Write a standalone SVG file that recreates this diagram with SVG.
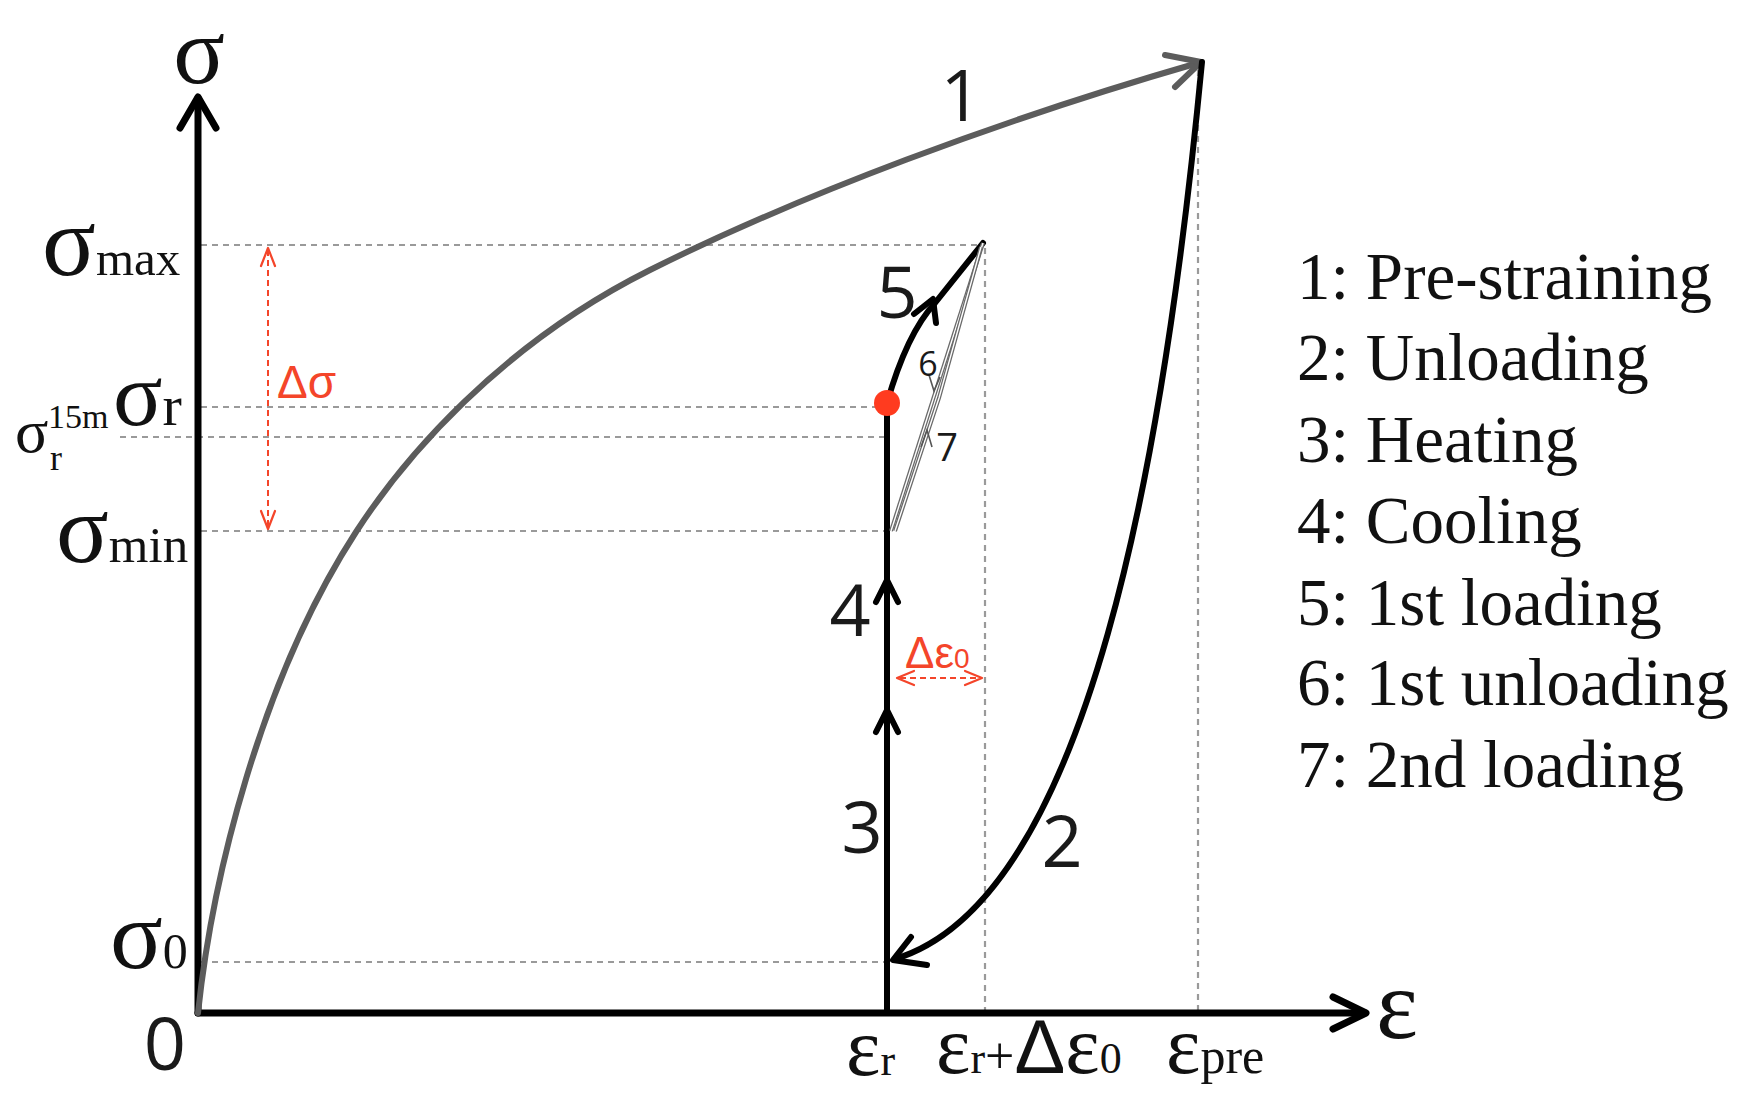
<svg xmlns="http://www.w3.org/2000/svg" width="1757" height="1113" viewBox="0 0 1757 1113">
<style>
.ser{font-family:"Liberation Serif","Times New Roman",serif;fill:#111}
.san{font-family:"Open Sans","Noto Sans","DejaVu Sans",sans-serif;fill:#1a1a1a}
.red{font-family:"Liberation Sans",Arial,sans-serif;fill:#f4452a}
.dash{stroke:#9a9a9a;stroke-width:2.2;stroke-dasharray:6 5;fill:none}
.axis{stroke:#000;stroke-width:7;fill:none;stroke-linecap:round;stroke-linejoin:round}
.blk{stroke:#000;stroke-width:6;fill:none;stroke-linecap:round;stroke-linejoin:round}
.gry{stroke:#5c5c5c;stroke-width:6;fill:none;stroke-linecap:round;stroke-linejoin:round}
.rd{stroke:#f4452a;stroke-width:2;fill:none;stroke-dasharray:6 4}
.rdh{stroke:#f4452a;stroke-width:2.2;fill:none;stroke-linecap:round;stroke-linejoin:round}
.thin{stroke:#6a6a6a;stroke-width:4;fill:none}
.thinw{stroke:#fff;stroke-width:1.4;fill:none}
</style>
<rect width="1757" height="1113" fill="#fff"/>

<g id="guides">
  <line class="dash" x1="201" y1="245" x2="983" y2="245"/>
  <line class="dash" x1="201" y1="407" x2="876" y2="407"/>
  <line class="dash" x1="120" y1="437" x2="884" y2="437"/>
  <line class="dash" x1="201" y1="531" x2="884" y2="531"/>
  <line class="dash" x1="201" y1="962" x2="884" y2="962"/>
  <line class="dash" x1="985" y1="248" x2="985" y2="1010"/>
  <line class="dash" x1="1198" y1="70" x2="1198" y2="1010"/>
</g>

<g id="axis-y">
  <line class="axis" x1="198" y1="1013" x2="198" y2="98"/>
  <polyline class="axis" points="180,128 198,97 216,128"/>
  <text class="ser" x="199" y="83" font-size="96" text-anchor="middle">σ</text>
</g>
<g id="axis-x">
  <line class="axis" x1="198" y1="1013" x2="1365" y2="1013"/>
  <polyline class="axis" points="1333,997 1366,1013 1333,1029"/>
  <text class="ser" x="1376" y="1038" font-size="100">ε</text>
</g>

<g id="connectors">
  <path id="c1" class="gry" d="M198,1013 C212,880 260,680 356,532 C404,458 500,345 650,270 C800,195 1000,120 1198,63"/>
  <polyline class="gry" points="1165,55 1201,62 1175,87"/>
  <path id="c2" class="blk" d="M1202,62 C1165,450 1090,900 895,959"/>
  <polyline class="blk" points="911,937 893,960 927,965"/>
  <line id="c34" class="blk" x1="887" y1="1013" x2="887" y2="403"/>
  <polyline class="blk" points="876,732 887,710 898,732"/>
  <polyline class="blk" points="876,602 887,580 898,602"/>
  <path id="c5" class="blk" d="M887,403 C895,375 910,330 935,303 L983,243"/>
  <polyline class="blk" points="914,314 933,299 936,323"/>
  <g id="c6">
    <line class="thin" x1="983" y1="243" x2="891" y2="531"/>
    <line class="thinw" x1="983" y1="243" x2="891" y2="531"/>
    <polyline stroke="#555" stroke-width="1.6" fill="none" points="929,375 934,391 940,377"/>
  </g>
  <g id="c7">
    <path class="thin" d="M895,531 L939,398 L981,247"/>
    <path class="thinw" d="M895,531 L939,398 L981,247"/>
    <polyline stroke="#555" stroke-width="1.6" fill="none" points="921,447 927,430 932,447"/>
  </g>
  <circle id="dot" cx="887" cy="403" r="13" fill="#ff3b1f"/>
  <g id="dsigma">
    <line class="rd" x1="268" y1="250" x2="268" y2="527"/>
    <polyline class="rdh" points="261,266 268,248 275,266"/>
    <polyline class="rdh" points="261,511 268,529 275,511"/>
  </g>
  <g id="deps">
    <line class="rd" x1="900" y1="678" x2="979" y2="678"/>
    <polyline class="rdh" points="914,671 897,678 914,685"/>
    <polyline class="rdh" points="965,671 982,678 965,685"/>
  </g>
</g>

<g id="label-smax"><text class="ser" x="42" y="275"><tspan font-size="100">σ</tspan><tspan font-size="49">max</tspan></text></g>
<g id="label-sr"><text class="ser" x="113" y="425"><tspan font-size="92">σ</tspan><tspan font-size="58">r</tspan></text></g>
<g id="label-sr15">
  <text class="ser" x="15" y="452" font-size="62">σ</text>
  <text class="ser" x="48" y="428" font-size="34">15m</text>
  <text class="ser" x="50" y="470" font-size="36">r</text>
</g>
<g id="label-smin"><text class="ser" x="56" y="562"><tspan font-size="98">σ</tspan><tspan font-size="51">min</tspan></text></g>
<g id="label-s0"><text class="ser" x="110" y="968"><tspan font-size="98">σ</tspan><tspan font-size="50">0</tspan></text></g>
<g id="label-origin"><text class="san" x="165" y="1070" font-size="74" text-anchor="middle">0</text></g>

<g id="label-er"><text class="ser" x="846" y="1075"><tspan font-size="82">ε</tspan><tspan font-size="44">r</tspan></text></g>
<g id="label-erd"><text class="ser" x="936" y="1073"><tspan font-size="82">ε</tspan><tspan font-size="44">r</tspan><tspan font-size="52">+</tspan><tspan font-family="Liberation Sans,Arial,sans-serif" font-size="76">Δ</tspan><tspan font-size="82">ε</tspan><tspan font-size="44">0</tspan></text></g>
<g id="label-epre"><text class="ser" x="1166" y="1073"><tspan font-size="82">ε</tspan><tspan font-size="50">pre</tspan></text></g>

<g id="label-ds"><text class="red" x="277" y="398" font-size="46">Δσ</text></g>
<g id="label-de"><text class="red" x="905" y="668"><tspan font-size="44">Δε</tspan><tspan font-size="28">0</tspan></text></g>

<g id="num-1"><text class="san" x="961" y="121" font-size="72" text-anchor="middle">1</text></g>
<g id="num-2"><text class="san" x="1062" y="867" font-size="72" text-anchor="middle">2</text></g>
<g id="num-3"><text class="san" x="862" y="853" font-size="72" text-anchor="middle">3</text></g>
<g id="num-4"><text class="san" x="850" y="636" font-size="72" text-anchor="middle">4</text></g>
<g id="num-5"><text class="san" x="897" y="318" font-size="72" text-anchor="middle">5</text></g>
<g id="num-6"><text class="san" x="928" y="376" font-size="34" text-anchor="middle">6</text></g>
<g id="num-7"><text class="san" x="947" y="461" font-size="38" text-anchor="middle">7</text></g>

<g id="legend" class="ser" font-size="67">
  <text x="1297" y="299">1: Pre-straining</text>
  <text x="1297" y="380">2: Unloading</text>
  <text x="1297" y="462">3: Heating</text>
  <text x="1297" y="543">4: Cooling</text>
  <text x="1297" y="625">5: 1st loading</text>
  <text x="1297" y="705">6: 1st unloading</text>
  <text x="1297" y="787">7: 2nd loading</text>
</g>
</svg>
